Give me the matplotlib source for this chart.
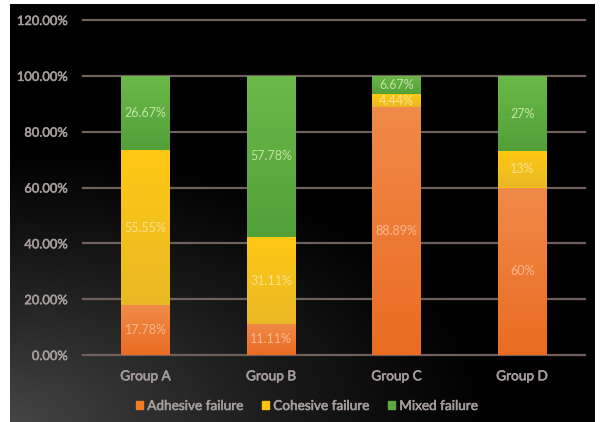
import numpy as np
import matplotlib
matplotlib.use("Agg")
import matplotlib.pyplot as plt
from matplotlib.patches import Patch
from matplotlib.colors import to_rgb
import matplotlib.patheffects as pe

categories = ["Group A", "Group B", "Group C", "Group D"]
adhesive = [17.78, 11.11, 88.89, 60]
cohesive = [55.55, 31.11, 4.44, 13]
mixed = [26.67, 57.78, 6.67, 27]
adhesive_labels = ["17.78%", "11.11%", "88.89%", "60%"]
cohesive_labels = ["55.55%", "31.11%", "4.44%", "13%"]
mixed_labels = ["26.67%", "57.78%", "6.67%", "27%"]
series_names = ["Adhesive failure", "Cohesive failure", "Mixed failure"]
yticks = [0, 20, 40, 60, 80, 100, 120]

plt.rcParams['font.family'] = ['Lato', 'DejaVu Sans']

W, H = 604, 422
fig = plt.figure(figsize=(W / 100, H / 100), dpi=100)
fig.patch.set_facecolor("white")

# dark background panel with gradient from lower-left
bg = fig.add_axes([10 / W, 0, (595 - 10) / W, (H - 4) / H])
bg.set_axis_off()
yy, xx = np.mgrid[0:1:200j, 0:1:300j]
d = np.sqrt((xx * 1.0) ** 2 + (yy * 1.25) ** 2)
val = np.clip(1 - d / 0.85, 0, 1) ** 1.2 * 0.27
img = np.dstack([val, val, val])
bg.imshow(img, origin="lower", aspect="auto", extent=[0, 1, 0, 1])
bg.set_xlim(0, 1)
bg.set_ylim(0, 1)

ax = fig.add_axes([83 / W, (H - 355) / H, (585 - 83) / W, (355 - 20) / H])
ax.patch.set_alpha(0)
x = np.arange(len(categories))
w = 0.39
c_or, c_ye, c_gr = "#f07b22", "#fcc20f", "#5aaa3c"
grads = {
    c_or: ("#f08a48", "#ea6c22"),
    c_ye: ("#ffc814", "#e9b924"),
    c_gr: ("#6cb84a", "#52a038"),
}


def grad_bars(bars, col):
    top, bottom = grads[col]
    t = np.array(to_rgb(top))
    b = np.array(to_rgb(bottom))
    ramp = np.linspace(0, 1, 64)[:, None, None]
    g = b * (1 - ramp) + t * ramp
    for p in bars:
        x0, y0 = p.get_x(), p.get_y()
        im = ax.imshow(g, origin="lower", aspect="auto",
                       extent=[x0, x0 + p.get_width(), y0, y0 + p.get_height()], zorder=3.1)
        im.set_clip_path(p)


b1 = ax.bar(x, adhesive, w, color=c_or, zorder=3)
b2 = ax.bar(x, cohesive, w, bottom=adhesive, color=c_ye, zorder=3)
bot2 = np.array(adhesive) + np.array(cohesive)
b3 = ax.bar(x, mixed, w, bottom=bot2, color=c_gr, zorder=3)
grad_bars(b1, c_or)
grad_bars(b2, c_ye)
grad_bars(b3, c_gr)

for i in range(len(categories)):
    ax.text(x[i], adhesive[i] / 2, adhesive_labels[i], ha="center", va="center",
            color="#f9b98e", fontsize=9, zorder=4)
    ax.text(x[i], adhesive[i] + cohesive[i] / 2, cohesive_labels[i], ha="center", va="center",
            color="#fbe290", fontsize=9, zorder=4)
    ax.text(x[i], bot2[i] + mixed[i] / 2, mixed_labels[i], ha="center", va="center",
            color="#c4e4a4", fontsize=9, zorder=4)

ax.set_xlim(-0.5, 3.5)
ax.set_ylim(0, 120)
ax.set_yticks(yticks)
ax.set_yticklabels([f"{v:.2f}%" for v in yticks])
ax.set_xticks(x)
ax.set_xticklabels(categories)
ax.tick_params(axis="y", length=0, pad=11, colors="#a59d9b", labelsize=9.3)
ax.tick_params(axis="x", length=0, pad=11, colors="#a59d9b", labelsize=9.8)
stroke = [pe.withStroke(linewidth=0.4, foreground="#a59d9b")]
for t in ax.get_xticklabels() + ax.get_yticklabels():
    t.set_path_effects(stroke)
for sp in ax.spines.values():
    sp.set_visible(False)
for v in yticks:
    ax.axhline(v, color="#6f605c", lw=1.6, zorder=1, clip_on=False)

handles = [Patch(color=c_or), Patch(color=c_ye), Patch(color=c_gr)]
leg = fig.legend(handles, series_names, loc="center", bbox_to_anchor=(307 / W, (H - 406) / H),
                 ncol=3, frameon=False, fontsize=9.8, handlelength=0.55, handleheight=0.55,
                 handletextpad=0.3, columnspacing=1.3)
for t in leg.get_texts():
    t.set_color("#a59d9b")
    t.set_path_effects(stroke)

fig.savefig("out.png", dpi=100, facecolor=fig.get_facecolor())
